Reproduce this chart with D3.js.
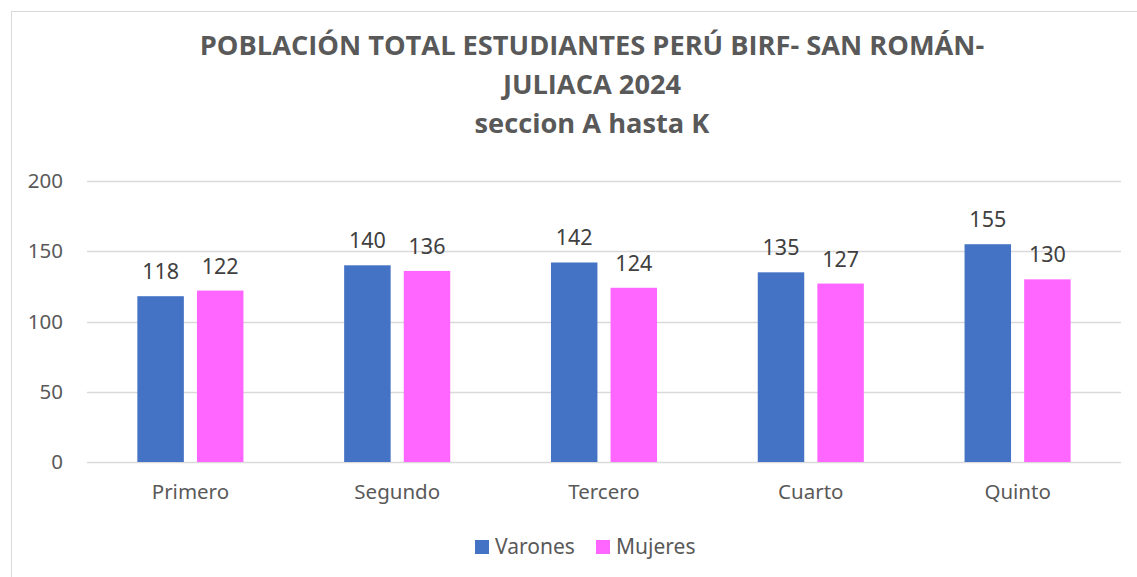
<!DOCTYPE html>
<html>
<head>
<meta charset="utf-8">
<script src="https://cdn.jsdelivr.net/npm/d3@7"></script>
<style>
  body { margin: 0; background: #fff; }
  text { font-family: "Noto Sans", "Open Sans", sans-serif; }
</style>
</head>
<body>
<div class="chart"></div>
<script>
const categories = ["Primero", "Segundo", "Tercero", "Cuarto", "Quinto"];
const series = ["Varones", "Mujeres"];
const varones = [118, 140, 142, 135, 155];
const mujeres = [122, 136, 124, 127, 130];
const yTicks = [0, 50, 100, 150, 200];
const titleLines = [
  "POBLACIÓN TOTAL ESTUDIANTES PERÚ BIRF- SAN ROMÁN-",
  "JULIACA 2024",
  "seccion A hasta K"
];
const colors = { Varones: "#4472C4", Mujeres: "#FF66FF" };

const W = 1137, H = 577;
const svg = d3.select(".chart").append("svg").attr("width", W).attr("height", H);

// chart border
svg.append("rect")
  .attr("x", 11.5).attr("y", 11.5)
  .attr("width", W + 10).attr("height", H + 10)
  .attr("fill", "#fff").attr("stroke", "#D9D9D9");

// title
const titleY = [55, 94, 133];
const firstLine = svg.append("text")
  .attr("x", 592).attr("y", titleY[0])
  .attr("text-anchor", "middle")
  .attr("font-weight", "bold")
  .attr("font-size", 24)
  .attr("fill", "#595959")
  .style("font-family", "'Liberation Sans Narrow', 'Open Sans', sans-serif")
  .text(titleLines[0]);
// fit first line width to the reference (~785px)
let titleSize = 24 * 785 / firstLine.node().getComputedTextLength();
firstLine.attr("font-size", titleSize);
titleLines.slice(1).forEach((t, i) => {
  svg.append("text")
    .attr("x", 592).attr("y", titleY[i + 1])
    .attr("text-anchor", "middle")
    .attr("font-weight", "bold")
    .attr("font-size", titleSize)
    .attr("fill", "#595959")
    .style("font-family", "'Liberation Sans Narrow', 'Open Sans', sans-serif")
    .text(t);
});

// scales
const x0 = d3.scaleBand().domain(categories).range([87, 1121]).paddingInner(0.487).paddingOuter(0.2435);
const x1 = d3.scaleBand().domain(series).range([0, x0.bandwidth()]).paddingInner(0.22);
const y = d3.scaleLinear().domain([0, 200]).range([462, 181]);

// gridlines
svg.append("g")
  .selectAll("line")
  .data(yTicks)
  .join("line")
  .attr("x1", 87).attr("x2", 1121)
  .attr("y1", d => Math.round(y(d)) + 0.5).attr("y2", d => Math.round(y(d)) + 0.5)
  .attr("stroke", "#D9D9D9").attr("stroke-width", 1.5);

// y axis labels
const yAxis = svg.append("g")
  .attr("transform", "translate(87,0)")
  .call(d3.axisLeft(y).tickValues(yTicks).tickSize(0).tickPadding(24));
yAxis.select(".domain").remove();
yAxis.selectAll("text")
  .attr("font-size", 20.5).attr("fill", "#595959")
  .style("font-family", "'Noto Sans', sans-serif");

// x axis labels
const xAxis = svg.append("g")
  .attr("transform", "translate(0,462)")
  .call(d3.axisBottom(x0).tickSize(0).tickPadding(22));
xAxis.select(".domain").remove();
xAxis.selectAll("text")
  .attr("font-size", 20.5).attr("fill", "#595959")
  .style("font-family", "'Noto Sans', sans-serif");

// bars
const rows = categories.map((c, i) => ({ cat: c, Varones: varones[i], Mujeres: mujeres[i] }));
const groups = svg.append("g")
  .selectAll("g")
  .data(rows)
  .join("g")
  .attr("transform", d => `translate(${x0(d.cat)},0)`);

groups.selectAll("rect")
  .data(d => series.map(s => ({ key: s, value: d[s] })))
  .join("rect")
  .attr("x", d => x1(d.key))
  .attr("width", x1.bandwidth())
  .attr("y", d => y(d.value))
  .attr("height", d => y(0) - y(d.value))
  .attr("fill", d => colors[d.key]);

groups.selectAll("text.lbl")
  .data(d => series.map(s => ({ key: s, value: d[s] })))
  .join("text")
  .attr("class", "lbl")
  .attr("x", d => x1(d.key) + x1.bandwidth() / 2)
  .attr("y", d => y(d.value) - 17)
  .attr("text-anchor", "middle")
  .attr("font-size", 21.5)
  .attr("fill", "#404040")
  .text(d => d.value);

// legend
const legendX = [475, 596];
const legend = svg.append("g")
  .selectAll("g")
  .data(series)
  .join("g")
  .attr("transform", (d, i) => `translate(${legendX[i]},540)`);
legend.append("rect")
  .attr("width", 14).attr("height", 14)
  .attr("fill", d => colors[d]);
legend.append("text")
  .attr("x", 20).attr("y", 14)
  .attr("font-size", 21).attr("fill", "#595959")
  .text(d => d);
</script>
</body>
</html>
